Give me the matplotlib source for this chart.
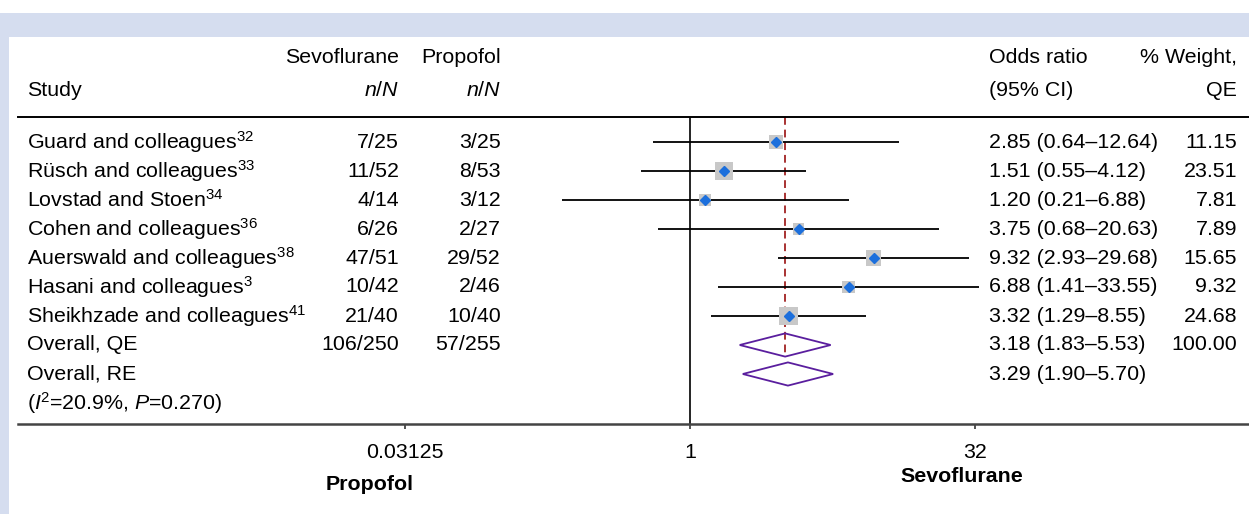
import numpy as np
import matplotlib.pyplot as plt
from matplotlib.patches import Rectangle
from matplotlib.transforms import blended_transform_factory
from matplotlib.ticker import NullLocator

plt.rcParams['font.family'] = ['Liberation Sans', 'DejaVu Sans']
plt.rcParams['mathtext.fontset'] = 'custom'
plt.rcParams['mathtext.rm'] = 'Liberation Sans'
plt.rcParams['mathtext.it'] = 'Liberation Sans:italic'
plt.rcParams['mathtext.bf'] = 'Liberation Sans:bold'

# study data
studies = ['Guard and colleagues', 'Rüsch and colleagues', 'Lovstad and Stoen',
           'Cohen and colleagues', 'Auerswald and colleagues', 'Hasani and colleagues',
           'Sheikhzade and colleagues']
refs = ['32', '33', '34', '36', '38', '3', '41']
sevo_nN = ['7/25', '11/52', '4/14', '6/26', '47/51', '10/42', '21/40']
prop_nN = ['3/25', '8/53', '3/12', '2/27', '29/52', '2/46', '10/40']
odds = [2.85, 1.51, 1.20, 3.75, 9.32, 6.88, 3.32]
ci_lo = [0.64, 0.55, 0.21, 0.68, 2.93, 1.41, 1.29]
ci_hi = [12.64, 4.12, 6.88, 20.63, 29.68, 33.55, 8.55]
weights = [11.15, 23.51, 7.81, 7.89, 15.65, 9.32, 24.68]

# pooled estimates
qe_or, qe_lo, qe_hi, qe_weight = 3.18, 1.83, 5.53, 100.00
re_or, re_lo, re_hi = 3.29, 1.90, 5.70
sevo_total, prop_total = '106/250', '57/255'
i2, p_het = 20.9, 0.270

xticks = [0.03125, 1, 32]
xtick_labels = ['0.03125', '1', '32']

W, H = 1249, 514
fig = plt.figure(figsize=(W / 100, H / 100), dpi=100, facecolor='white')

# light blue frame + white panel
fig.patches.append(Rectangle((0, 0), 1, 1 - 13 / H, transform=fig.transFigure,
                             facecolor='#d5ddef', edgecolor='none', zorder=-10))
fig.patches.append(Rectangle((9 / W, 0), 1, 1 - 37 / H, transform=fig.transFigure,
                             facecolor='white', edgecolor='none', zorder=-9))

# forest axes: row i sits at pixel 142 + 29*i
ax = fig.add_axes([18 / W, (H - 424) / H, (W - 18) / W, (424 - 117) / H])
ax.patch.set_alpha(0)
ax.set_xscale('log', base=2)
ax.set_xlim(2 ** ((18 - 690) / 57), 2 ** ((W - 690) / 57))
ax.set_ylim((424 - 142) / 29, (117 - 142) / 29)
ax.set_yticks([])
for s in ['left', 'right']:
    ax.spines[s].set_visible(False)
ax.spines['top'].set_color('black')
ax.spines['top'].set_linewidth(1.4)
ax.spines['bottom'].set_color('#444444')
ax.spines['bottom'].set_linewidth(1.8)
ax.set_xticks(xticks)
ax.set_xticklabels(xtick_labels)
ax.xaxis.set_minor_locator(NullLocator())
ax.tick_params(axis='x', length=3.5, width=1.3, color='#444444', labelsize=15.4, pad=10)

rows = np.arange(len(studies))
n = len(studies)

ax.axvline(1, color='black', lw=1.2, zorder=1)
ax.vlines(qe_or, ax.get_ylim()[1], n + 0.4, color='#a83232', lw=1.4,
          linestyles=(0, (4, 2.5)), zorder=2)

ax.hlines(rows, ci_lo, ci_hi, color='black', lw=1.3, zorder=3)
side = 2 + 3.4 * np.sqrt(weights)   # box side in px
ax.scatter(odds, rows, marker='s', s=(side * 0.72) ** 2, color='#c8c8c8',
           edgecolor='none', zorder=4)
ax.plot(odds, rows, 'D', color='#1c6fdc', markersize=5.5, zorder=5)

for y, (lo, mid, hi) in zip([n, n + 1], [(qe_lo, qe_or, qe_hi), (re_lo, re_or, re_hi)]):
    ax.fill([lo, mid, hi, mid, lo], [y, y - 0.4, y, y + 0.4, y],
            facecolor='none', edgecolor='#5a1e9e', lw=1.3, zorder=6)

# text columns
tr = blended_transform_factory(fig.transFigure, ax.transData)
fs = 15.4
hdr1, hdr2 = (57 - 142) / 29, (90 - 142) / 29
kw = dict(transform=tr, fontsize=fs, va='center')
ax.text(399 / W, hdr1, 'Sevoflurane', ha='right', **kw)
ax.text(501 / W, hdr1, 'Propofol', ha='right', **kw)
ax.text(989 / W, hdr1, 'Odds ratio', ha='left', **kw)
ax.text(1237 / W, hdr1, '% Weight,', ha='right', **kw)
ax.text(27 / W, hdr2, 'Study', ha='left', **kw)
ax.text(399 / W, hdr2, '$n$/$N$', ha='right', **kw)
ax.text(501 / W, hdr2, '$n$/$N$', ha='right', **kw)
ax.text(989 / W, hdr2, '(95% CI)', ha='left', **kw)
ax.text(1237 / W, hdr2, 'QE', ha='right', **kw)

for i in range(n):
    ax.text(27 / W, i, f'{studies[i]}$^{{{refs[i]}}}$', ha='left', **kw)
    ax.text(399 / W, i, sevo_nN[i], ha='right', **kw)
    ax.text(501 / W, i, prop_nN[i], ha='right', **kw)
    ax.text(989 / W, i, f'{odds[i]:.2f} ({ci_lo[i]:.2f}–{ci_hi[i]:.2f})', ha='left', **kw)
    ax.text(1237 / W, i, f'{weights[i]:.2f}', ha='right', **kw)

ax.text(27 / W, n, 'Overall, QE', ha='left', **kw)
ax.text(399 / W, n, sevo_total, ha='right', **kw)
ax.text(501 / W, n, prop_total, ha='right', **kw)
ax.text(989 / W, n, f'{qe_or:.2f} ({qe_lo:.2f}–{qe_hi:.2f})', ha='left', **kw)
ax.text(1237 / W, n, f'{qe_weight:.2f}', ha='right', **kw)
ax.text(27 / W, n + 1, 'Overall, RE', ha='left', **kw)
ax.text(989 / W, n + 1, f'{re_or:.2f} ({re_lo:.2f}–{re_hi:.2f})', ha='left', **kw)
ax.text(27 / W, n + 2, f'($I$$^2$={i2:.1f}%, $P$={p_het:.3f})', ha='left', **kw)

fig.text(370 / W, 1 - 485 / H, 'Propofol', ha='center', va='center',
         fontsize=fs, fontweight='bold')
fig.text(962 / W, 1 - 477 / H, 'Sevoflurane', ha='center', va='center',
         fontsize=fs, fontweight='bold')

fig.savefig('out.png', dpi=100, facecolor=fig.get_facecolor())
